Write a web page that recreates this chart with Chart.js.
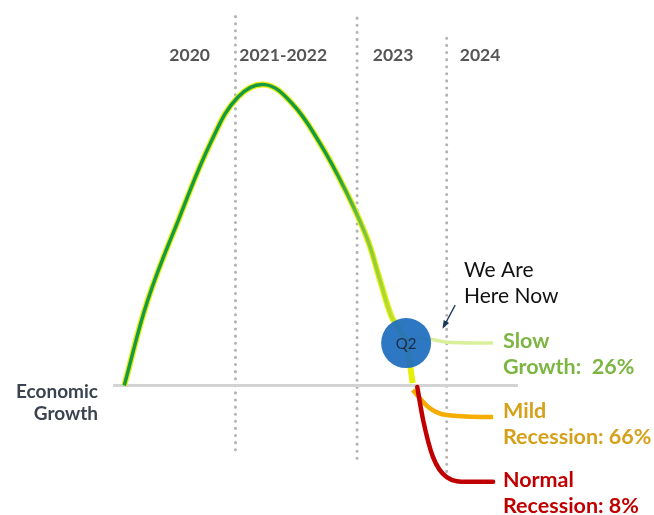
<!DOCTYPE html>
<html>
<head>
<meta charset="utf-8">
<script src="https://cdn.jsdelivr.net/npm/chart.js@4.4.1/dist/chart.umd.min.js"></script>
<style>
  html, body { margin: 0; padding: 0; background: #fff; }
  #wrap { position: relative; width: 654px; height: 515px; }
</style>
</head>
<body>
<div id="wrap"><canvas id="chart-recession"></canvas></div>
<script>
// periods shown above the curve, and where each one starts on the time axis
const periods = ['2020', '2021-2022', '2023', '2024'];
const periodCenters = [29, 43.3, 60.1, 73.4];
const dividerX = [36, 54.6, 68.3];
const dividerTop = [122.5, 122, 115.3];
const dividerBottom = [-23.4, -24.4, -30.7];

// economic growth path (x = time, y = growth index, 0 = baseline)
const mainX = [19, 22.6, 27.4, 32.4, 36.4, 40.5, 44.6, 48.9, 52.8, 56.1, 58.1, 59.9, 61.2];
const mainY = [0, 28.4, 55.6, 81.5, 95.8, 99.9, 93.8, 80.5, 64.9, 49.0, 35.0, 22.7, 18.4];
const yellowTailX = [62.1, 63.1];
const yellowTailY = [14.1, 0.8];

// three scenarios after Q2
const slowX = [62.1, 65.7, 68.3, 75.4];
const slowY = [15.8, 15.4, 14.4, 14.1];
const mildX = [63.1, 65.7, 68.3, 75.4];
const mildY = [-1.5, -7.5, -9.8, -10.5];
const normalX = [63.8, 64.7, 66.2, 68.3, 71.4, 75.4];
const normalY = [-0.5, -11.5, -23.7, -30.4, -32.0, -32.0];

const q2Point = { x: 62.1, y: 14.1 };
const baselineX = [17.3, 79.2];

function pts(xs, ys) { return xs.map((x, i) => ({ x: x, y: ys[i] })); }

const FONT = 'Lato, "Open Sans", sans-serif';

const textPlugin = {
  id: 'texts',
  afterDatasetsDraw(chart) {
    const c = chart.ctx;
    const sx = chart.scales.x, sy = chart.scales.y;
    c.save();
    c.textBaseline = 'middle';

    // period labels
    c.font = 'bold 17.5px ' + FONT;
    c.fillStyle = '#555555';
    c.textAlign = 'center';
    periods.forEach((p, i) => c.fillText(p, sx.getPixelForValue(periodCenters[i]), 55));

    // Q2 label
    c.font = '15px ' + FONT;
    c.fillStyle = '#1b2d45';
    c.fillText('Q2', sx.getPixelForValue(q2Point.x), sy.getPixelForValue(q2Point.y) + 1);

    // left axis label
    c.textAlign = 'right';
    c.font = 'bold 19px ' + FONT;
    c.fillStyle = '#3a4450';
    c.fillText('Economic', 98, 392);
    c.fillText('Growth', 98, 414);

    // callout
    c.textAlign = 'left';
    c.font = '21px ' + FONT;
    c.fillStyle = '#111111';
    c.fillText('We Are', 464, 270);
    c.fillText('Here Now', 464, 296);

    // arrow
    const ax1 = sx.getPixelForValue(69.6), ay1 = sy.getPixelForValue(26.7);
    const ax2 = sx.getPixelForValue(67.8), ay2 = sy.getPixelForValue(19.4);
    c.strokeStyle = '#1d3a5e';
    c.fillStyle = '#1d3a5e';
    c.lineWidth = 1.3;
    c.beginPath(); c.moveTo(ax1, ay1); c.lineTo(ax2, ay2); c.stroke();
    const ang = Math.atan2(ay2 - ay1, ax2 - ax1);
    c.beginPath();
    c.moveTo(ax2 + 2 * Math.cos(ang), ay2 + 2 * Math.sin(ang));
    c.lineTo(ax2 - 7 * Math.cos(ang - 0.45), ay2 - 7 * Math.sin(ang - 0.45));
    c.lineTo(ax2 - 7 * Math.cos(ang + 0.45), ay2 - 7 * Math.sin(ang + 0.45));
    c.closePath(); c.fill();

    // scenario labels
    c.font = 'bold 21.5px ' + FONT;
    c.fillStyle = '#7db543';
    c.fillText('Slow', 503, 341);
    c.fillText('Growth:  26%', 503, 367);
    c.fillStyle = '#d6a11a';
    c.fillText('Mild', 503, 411);
    c.fillText('Recession: 66%', 503, 437);
    c.fillStyle = '#c00000';
    c.fillText('Normal', 503, 480);
    c.fillText('Recession: 8%', 503, 506);
    c.restore();
  }
};

function greenGradient(ctx) {
  const chart = ctx.chart;
  if (!chart.chartArea) return '#179a45';
  const sx = chart.scales.x;
  const g = chart.ctx.createLinearGradient(sx.getPixelForValue(51), 0, sx.getPixelForValue(61), 0);
  g.addColorStop(0, '#179a45');
  g.addColorStop(0.45, '#7cc243');
  g.addColorStop(1, '#c9e62a');
  return g;
}

const dividerSets = dividerX.map((x, i) => ({
  data: [{ x: x, y: dividerTop[i] }, { x: x, y: dividerBottom[i] }],
  borderColor: '#b3b3b3',
  borderWidth: 3,
  borderDash: [0.1, 7],
  borderCapStyle: 'round',
  pointRadius: 0,
  order: 10
}));

new Chart(document.getElementById('chart-recession'), {
  type: 'line',
  data: {
    datasets: [
      { data: [q2Point], type: 'scatter', pointRadius: 25, pointHoverRadius: 25,
        backgroundColor: 'rgba(30,110,190,0.93)', borderWidth: 0, order: 0 },
      { data: pts(mainX, mainY), borderColor: greenGradient, borderWidth: 3.5,
        tension: 0.4, pointRadius: 0, order: 1 },
      { data: pts(mainX.concat(yellowTailX), mainY.concat(yellowTailY)), borderColor: '#e4ef0a',
        borderWidth: 6, tension: 0.4, pointRadius: 0, order: 2 },
      { data: pts(normalX, normalY), borderColor: '#c00000', borderWidth: 4.5,
        cubicInterpolationMode: 'monotone', pointRadius: 0, borderCapStyle: 'round', order: 3 },
      { data: pts(mildX, mildY), borderColor: '#f5ad00', borderWidth: 4.5,
        cubicInterpolationMode: 'monotone', pointRadius: 0, order: 4 },
      { data: pts(slowX, slowY), borderColor: '#d9ef9a', borderWidth: 3.5,
        cubicInterpolationMode: 'monotone', pointRadius: 0, order: 5 },
      { data: [{ x: baselineX[0], y: 0 }, { x: baselineX[1], y: 0 }], borderColor: '#d3d3d3',
        borderWidth: 3, pointRadius: 0, order: 9 }
    ].concat(dividerSets)
  },
  options: {
    responsive: true,
    maintainAspectRatio: false,
    animation: false,
    layout: { padding: 0, autoPadding: false },
    events: [],
    datasets: { line: { clip: false }, scatter: { clip: false } },
    scales: {
      x: { type: 'linear', min: 0, max: 100, display: false },
      y: { type: 'linear', min: -43, max: 128, display: false }
    },
    plugins: {
      legend: { display: false },
      tooltip: { enabled: false }
    }
  },
  plugins: [textPlugin]
});
</script>
</body>
</html>
